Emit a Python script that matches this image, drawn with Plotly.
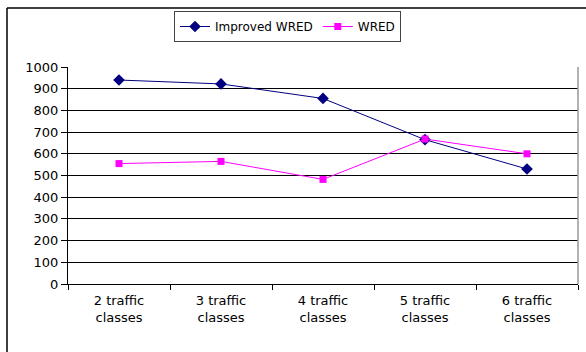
import plotly.graph_objects as go

categories = ["2 traffic<br>classes", "3 traffic<br>classes", "4 traffic<br>classes",
              "5 traffic<br>classes", "6 traffic<br>classes"]
improved_wred = [940, 922, 855, 665, 530]
wred = [555, 565, 482, 668, 600]
y_ticks = list(range(0, 1001, 100))

W, H = 586, 352
L, R, T, B = 68, 8, 67, 68
pw, ph = W - L - R, H - T - B

def px_x(x):
    return (x - L) / pw

def px_y(y):
    return (H - B - y) / ph

fig = go.Figure()
fig.add_trace(go.Scatter(
    x=categories, y=improved_wred, name="Improved WRED", mode="lines+markers",
    line=dict(color="#000080", width=1),
    marker=dict(symbol="diamond", size=9, color="#000080")))
fig.add_trace(go.Scatter(
    x=categories, y=wred, name="WRED", mode="lines+markers",
    line=dict(color="#FF00FF", width=1),
    marker=dict(symbol="square", size=7, color="#FF00FF")))

font = dict(family="DejaVu Sans", size=13, color="black")

fig.update_layout(
    width=W, height=H,
    margin=dict(l=L, r=R, t=T, b=B, autoexpand=False),
    paper_bgcolor="white", plot_bgcolor="white",
    font=font,
    showlegend=True,
    legend=dict(orientation="h", x=px_x(174), y=px_y(11), xanchor="left", yanchor="top",
                bordercolor="#444444", borderwidth=1, bgcolor="white",
                font=dict(family="DejaVu Sans", size=12), itemwidth=30,
                tracegroupgap=0),
    xaxis=dict(type="category", range=[-0.5, 4.5], tickson="boundaries",
               ticks="outside", ticklen=5, tickcolor="black",
               showline=True, linecolor="black", linewidth=1,
               showgrid=False, tickfont=font, ticklabelstandoff=4),
    yaxis=dict(range=[0, 1000], tickvals=y_ticks, ticks="outside", ticklen=6,
               tickcolor="black", showline=True, linecolor="black", linewidth=1,
               showgrid=True, gridcolor="black", gridwidth=1, zeroline=False,
               tickfont=font),
    shapes=[
        dict(type="line", xref="paper", yref="paper", x0=1, x1=1, y0=0, y1=1,
             line=dict(color="#999999", width=1.5)),
        dict(type="line", xref="paper", yref="paper", x0=px_x(7), x1=px_x(W + 5),
             y0=px_y(8), y1=px_y(8), line=dict(color="black", width=1.5)),
        dict(type="line", xref="paper", yref="paper", x0=px_x(7), x1=px_x(7),
             y0=px_y(8), y1=px_y(H + 5), line=dict(color="black", width=1.5)),
    ],
)

fig.write_html("out.html", config={"displayModeBar": False},
               post_script="document.body.style.margin='0';")
